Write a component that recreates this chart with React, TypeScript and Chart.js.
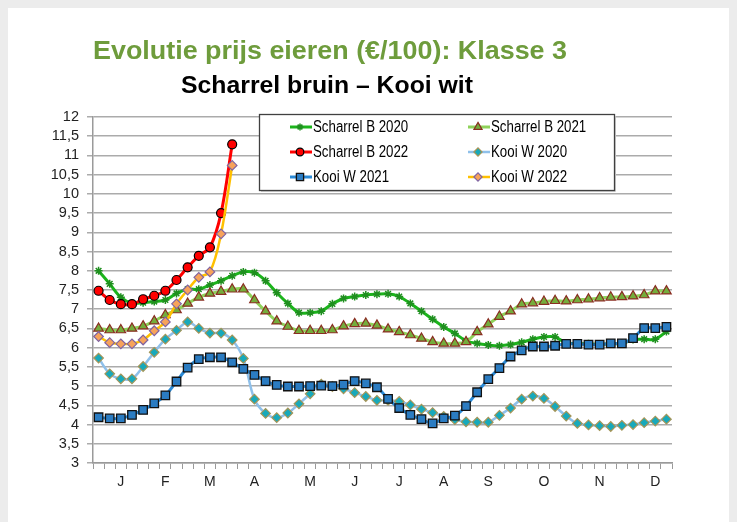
import React, { useEffect, useRef } from 'react';
import { Chart, registerables } from 'chart.js';
import { drawPoint } from 'chart.js/helpers';

Chart.register(...registerables);

// ---------- data ----------
const monthLetters = ['J', 'F', 'M', 'A', 'M', 'J', 'J', 'A', 'S', 'O', 'N', 'D'];
const monthWeekIndex = [2, 6, 10, 14, 19, 23, 27, 31, 35, 40, 45, 50];
const weekCount = 52;

const scharrelB2020 = [
  8.0, 7.66, 7.31, 7.16, 7.17, 7.2, 7.24, 7.41, 7.52, 7.52, 7.63, 7.74, 7.87, 7.97, 7.95, 7.74, 7.43, 7.15,
  6.91, 6.91, 6.95, 7.14, 7.28, 7.33, 7.37, 7.39, 7.40, 7.33, 7.15, 6.95, 6.74, 6.54, 6.37, 6.18, 6.11,
  6.07, 6.05, 6.08, 6.14, 6.22, 6.28, 6.28, 6.12, 6.11, 6.10, 6.09, 6.10, 6.11, 6.21, 6.22, 6.22, 6.42,
];
const scharrelB2021 = [
  6.50, 6.46, 6.46, 6.50, 6.56, 6.69, 6.85, 6.98, 7.15, 7.31, 7.41, 7.46, 7.52, 7.52, 7.24, 6.95, 6.69, 6.55,
  6.44, 6.44, 6.44, 6.46, 6.56, 6.62, 6.63, 6.58, 6.48, 6.41, 6.33, 6.24, 6.15, 6.11, 6.11, 6.15, 6.41,
  6.61, 6.81, 6.95, 7.13, 7.16, 7.2, 7.22, 7.21, 7.24, 7.26, 7.29, 7.31, 7.32, 7.34, 7.37, 7.47, 7.47,
];
const scharrelB2022 = [7.48, 7.24, 7.13, 7.13, 7.26, 7.35, 7.48, 7.76, 8.09, 8.39, 8.61, 9.5, 11.29];
const kooiW2020 = [
  5.73, 5.32, 5.19, 5.19, 5.51, 5.88, 6.22, 6.45, 6.67, 6.5, 6.38, 6.38, 6.2, 5.72, 4.66, 4.29, 4.18, 4.3,
  4.54, 4.8, 5.05, 4.99, 4.93, 4.83, 4.73, 4.63, 4.63, 4.6, 4.51, 4.4, 4.31, 4.21, 4.13, 4.07, 4.06,
  4.06, 4.24, 4.43, 4.66, 4.74, 4.68, 4.47, 4.22, 4.03, 3.99, 3.97, 3.95, 3.98, 4.0, 4.05, 4.09, 4.14,
];
const kooiW2021 = [
  4.19, 4.16, 4.16, 4.25, 4.38, 4.55, 4.76, 5.12, 5.48, 5.7, 5.75, 5.75, 5.62, 5.45, 5.29, 5.13, 5.03, 4.99,
  4.99, 5.0, 5.01, 5.0, 5.04, 5.13, 5.07, 4.97, 4.67, 4.43, 4.25, 4.14, 4.03, 4.16, 4.23, 4.48, 4.84,
  5.18, 5.47, 5.77, 5.93, 6.03, 6.03, 6.05, 6.1, 6.1, 6.08, 6.08, 6.11, 6.11, 6.25, 6.51, 6.51, 6.54,
];
const kooiW2022 = [6.29, 6.13, 6.1, 6.1, 6.2, 6.44, 6.67, 7.14, 7.5, 7.83, 7.97, 8.96, 10.74];

const seriesNames = ['Scharrel B 2020', 'Scharrel B 2021', 'Scharrel B 2022', 'Kooi W 2020', 'Kooi W 2021', 'Kooi W 2022'];

const yMin = 3;
const yMax = 12;
const yStep = 0.5;

const titleText = 'Evolutie prijs eieren (€/100): Klasse 3';
const subtitleText = 'Scharrel bruin – Kooi wit';

// ---------- styles ----------
const SANS = "'Liberation Sans', Arial, sans-serif";

const seriesStyles = [
  { line: '#1cb41c', fill: '#1f8f1f', border: '#1f8f1f', style: 'star', radius: 4, bw: 1.5, lw: 3 },
  { line: '#8fd25a', fill: '#74ad3c', border: '#8a2e22', style: 'triangle', radius: 5.5, bw: 1.2, lw: 3 },
  { line: '#ff0000', fill: '#ff0000', border: '#000000', style: 'circle', radius: 4.5, bw: 1.2, lw: 3 },
  { line: '#8fc0ea', fill: '#17a9bb', border: '#a39558', style: 'rectRot', radius: 4.8, bw: 1.2, lw: 2.5 },
  { line: '#2b8ad6', fill: '#2b7cc2', border: '#111111', style: 'rect', radius: 6, bw: 1.3, lw: 3 },
  { line: '#ffc000', fill: '#f7a35a', border: '#8064a2', style: 'rectRot', radius: 4.8, bw: 1.2, lw: 2.5 },
];

const weekLabels: string[] = Array.from({ length: weekCount }, () => '');
monthWeekIndex.forEach((w, i) => { weekLabels[w] = monthLetters[i]; });

const seriesValues = [scharrelB2020, scharrelB2021, scharrelB2022, kooiW2020, kooiW2021, kooiW2022];

function fmtTick(v: number | string) {
  return String(v).replace('.', ',');
}

function drawScaled(ctx: CanvasRenderingContext2D, text: string, x: number, y: number, font: string, color: string, opts: { width?: number; factor?: number }) {
  ctx.save();
  ctx.font = font;
  ctx.fillStyle = color;
  ctx.textBaseline = 'middle';
  ctx.textAlign = 'left';
  const m = ctx.measureText(text).width;
  const f = opts.width ? opts.width / m : (opts.factor || 1);
  ctx.translate(x, y);
  ctx.scale(f, 1);
  ctx.fillText(text, 0, 0);
  ctx.restore();
}

const overlayPlugin = {
  id: 'overlay',
  afterDraw(chart: any) {
    const ctx: CanvasRenderingContext2D = chart.ctx;
    // titles
    drawScaled(ctx, titleText, 85, 44, `bold 26px ${SANS}`, '#6e9c3c', { width: 474 });
    drawScaled(ctx, subtitleText, 173, 78, `bold 24px ${SANS}`, '#000000', { width: 292 });

    // legend box
    const bx = 251, by = 106, bw = 355, bh = 76;
    ctx.save();
    ctx.fillStyle = '#ffffff';
    ctx.fillRect(bx, by, bw, bh);
    ctx.strokeStyle = '#d0d0d0';
    ctx.lineWidth = 1;
    ctx.beginPath();
    ctx.moveTo(bx + 2, by + bh + 1.5);
    ctx.lineTo(bx + bw + 1.5, by + bh + 1.5);
    ctx.lineTo(bx + bw + 1.5, by + 2);
    ctx.stroke();
    ctx.strokeStyle = '#404040';
    ctx.lineWidth = 1.3;
    ctx.strokeRect(bx + 0.5, by + 0.5, bw, bh);

    const colLineX = [282, 460];
    const rowY = [119, 144, 169];
    chart.data.datasets.forEach((ds: any, i: number) => {
      const col = i % 2;
      const row = Math.floor(i / 2);
      const x0 = colLineX[col];
      const y = rowY[row];
      ctx.strokeStyle = ds.borderColor;
      ctx.lineWidth = ds.borderWidth;
      ctx.beginPath();
      ctx.moveTo(x0, y);
      ctx.lineTo(x0 + 22, y);
      ctx.stroke();
      ctx.fillStyle = ds.pointBackgroundColor;
      ctx.strokeStyle = ds.pointBorderColor;
      ctx.lineWidth = ds.pointBorderWidth;
      drawPoint(ctx, { pointStyle: ds.pointStyle, rotation: 0, radius: ds.pointRadius * 0.85, borderWidth: ds.pointBorderWidth }, x0 + 10, y);
      drawScaled(ctx, ds.label, x0 + 23, y + 1, `16px ${SANS}`, '#000000', { factor: 0.83 });
    });
    ctx.restore();
  },
};

export default function App() {
  const canvasRef = useRef<HTMLCanvasElement | null>(null);

  useEffect(() => {
    document.body.style.background = '#ececec';
    const canvas = canvasRef.current;
    if (!canvas) return;
    const n = seriesValues.length;
    const datasets = seriesValues.map((vals, i) => {
      const s = seriesStyles[i];
      return {
        label: seriesNames[i],
        data: vals,
        borderColor: s.line,
        borderWidth: s.lw,
        backgroundColor: s.fill,
        pointBackgroundColor: s.fill,
        pointBorderColor: s.border,
        pointBorderWidth: s.bw,
        pointStyle: s.style,
        pointRadius: s.radius,
        tension: 0.35,
        fill: false,
        order: n - i,
      };
    });

    const chart = new Chart(canvas, {
      type: 'line',
      data: { labels: weekLabels, datasets: datasets as any },
      options: {
        responsive: false,
        animation: false,
        layout: { padding: { top: 109, right: 60, bottom: 19, left: 0 } },
        plugins: {
          legend: { display: false },
          tooltip: { enabled: false },
          title: { display: false },
        },
        scales: {
          x: {
            type: 'category',
            offset: true,
            grid: { drawOnChartArea: false, drawTicks: true, tickLength: 6, color: '#9a9a9a', lineWidth: 1, offset: true },
            border: { color: '#9a9a9a', width: 1.5 },
            ticks: {
              autoSkip: false,
              maxRotation: 0,
              minRotation: 0,
              padding: 5,
              color: '#222222',
              font: { family: SANS, size: 14 },
            },
            afterFit: (s: any) => { s.height = 40; },
          },
          y: {
            min: yMin,
            max: yMax,
            ticks: {
              stepSize: yStep,
              autoSkip: false,
              callback: (v: any) => fmtTick(v),
              color: '#222222',
              padding: 8,
              font: { family: SANS, size: 14.5 },
            },
            grid: { color: '#ababab', lineWidth: 1.5, tickLength: 6 },
            border: { color: '#9a9a9a', width: 1.5 },
            afterFit: (s: any) => { s.width = 85; },
          },
        },
      },
      plugins: [overlayPlugin],
    });
    return () => chart.destroy();
  }, []);

  return (
    <div style={{ width: 724, height: 514, background: '#ffffff' }}>
      <canvas ref={canvasRef} width={724} height={514} style={{ display: 'block', width: 724, height: 514 }} />
    </div>
  );
}
